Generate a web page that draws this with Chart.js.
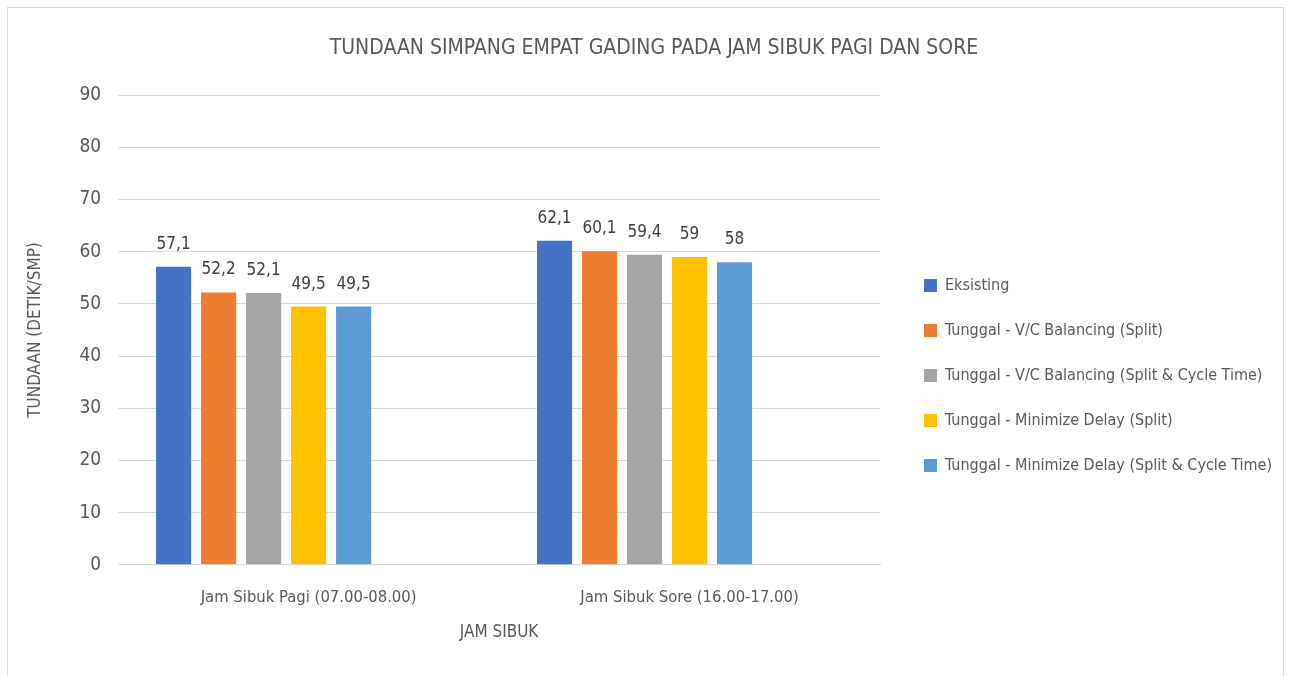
<!DOCTYPE html>
<html>
<head>
<meta charset="utf-8">
<script src="https://cdn.jsdelivr.net/npm/chart.js@4"></script>
<style>
  body { margin: 0; background: #fff; }
  #wrap { position: absolute; left: 7px; top: 7px; width: 1277px; height: 680px; border: 1px solid #d9d9d9; box-sizing: border-box; }
  #box { position: absolute; left: 0; top: 0; width: 1275px; height: 668px; }
</style>
</head>
<body>
<div id="wrap"><div id="box"><canvas id="chart"></canvas></div></div>
<script>
const categories = ['Jam Sibuk Pagi (07.00-08.00)', 'Jam Sibuk Sore (16.00-17.00)'];
const seriesNames = [
  'Eksisting',
  'Tunggal - V/C Balancing (Split)',
  'Tunggal - V/C Balancing (Split & Cycle Time)',
  'Tunggal - Minimize Delay (Split)',
  'Tunggal - Minimize Delay (Split & Cycle Time)'
];
const eksisting = [57.1, 62.1];
const vcSplit = [52.2, 60.1];
const vcSplitCycle = [52.1, 59.4];
const mdSplit = [49.5, 59];
const mdSplitCycle = [49.5, 58];
const yTicks = [0, 10, 20, 30, 40, 50, 60, 70, 80, 90];

const colors = ['#4472C4', '#ED7D31', '#A5A5A5', '#FFC000', '#5B9BD5'];
const font = "'DejaVu Sans Condensed', 'DejaVu Sans', sans-serif";
const textColor = '#595959';

const values = [eksisting, vcSplit, vcSplitCycle, mdSplit, mdSplitCycle];
const datasets = values.map((v, i) => ({
  label: seriesNames[i],
  data: v,
  backgroundColor: colors[i],
  categoryPercentage: 0.827,
  barPercentage: 0.78
}));
// two empty series, like the blank series in the original sheet
for (let k = 0; k < 2; k++) {
  datasets.push({ label: '', data: [null, null], backgroundColor: 'rgba(0,0,0,0)', categoryPercentage: 0.827, barPercentage: 0.78 });
}

const valueLabels = {
  id: 'valueLabels',
  afterDatasetsDraw(chart) {
    const ctx = chart.ctx;
    ctx.save();
    ctx.font = '17px ' + font;
    ctx.fillStyle = '#404040';
    ctx.textAlign = 'center';
    ctx.textBaseline = 'alphabetic';
    chart.data.datasets.forEach((ds, i) => {
      if (i >= 5) return;
      chart.getDatasetMeta(i).data.forEach((bar, j) => {
        const v = ds.data[j];
        ctx.fillText(String(v).replace('.', ','), bar.x, bar.y - 18);
      });
    });
    ctx.restore();
  }
};

// legend sits in a wide box to the right; nudge it like the original
const legendFix = {
  id: 'legendFix',
  afterInit(chart) {
    const lg = chart.legend;
    const fit = lg.fit.bind(lg);
    lg.fit = function () { fit(); this.width = 403; };
    const draw = lg.draw.bind(lg);
    lg.draw = function () {
      const ctx = chart.ctx;
      ctx.save();
      ctx.translate(15, 36);
      draw();
      ctx.restore();
    };
  }
};

const chart = new Chart(document.getElementById('chart').getContext('2d'), {
  type: 'bar',
  data: { labels: categories, datasets: datasets },
  options: {
    responsive: true,
    maintainAspectRatio: false,
    animation: false,
    layout: { padding: { top: 28, left: 17, right: 0, bottom: 33 } },
    plugins: {
      title: {
        display: true,
        text: 'TUNDAAN SIMPANG EMPAT GADING PADA JAM SIBUK PAGI DAN SORE',
        color: textColor,
        font: { family: font, size: 21, weight: 'normal' },
        padding: { top: 0, bottom: 34 }
      },
      legend: {
        position: 'right',
        labels: {
          filter: item => item.datasetIndex < 5,
          color: textColor,
          font: { family: font, size: 16 },
          boxWidth: 13,
          boxHeight: 13,
          padding: 29
        }
      },
      tooltip: { enabled: false }
    },
    scales: {
      x: {
        grid: { display: false },
        border: { color: '#d9d9d9' },
        ticks: { color: textColor, font: { family: font, size: 16.5 }, padding: 15 },
        title: { display: true, text: 'JAM SIBUK', color: textColor, font: { family: font, size: 17 }, padding: { top: 0, bottom: 0 } }
      },
      y: {
        min: 0,
        max: 90,
        afterBuildTicks: axis => { axis.ticks = yTicks.map(v => ({ value: v })); },
        grid: { color: '#d9d9d9', drawTicks: false },
        border: { display: false },
        ticks: { color: textColor, font: { family: font, size: 19 }, padding: 17 },
        title: { display: true, text: 'TUNDAAN (DETIK/SMP)', color: textColor, font: { family: font, size: 17 }, padding: { top: 0, bottom: 17 } }
      }
    }
  },
  plugins: [valueLabels, legendFix]
});
</script>
</body>
</html>
